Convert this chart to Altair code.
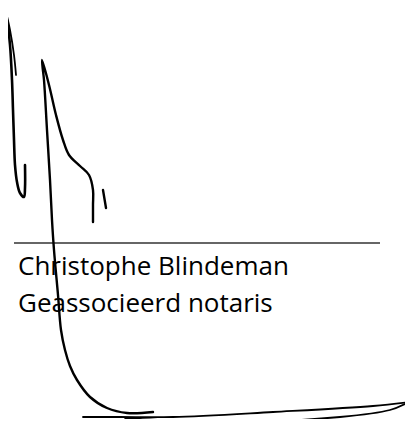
import altair as alt
import pandas as pd

# signature strokes (page pixel coordinates)
stroke_ids = ["A", "A2", "B", "C", "D1", "D2"]
stroke_x = {
    "A":  [4, 7, 10, 12, 13, 14, 15, 17, 20, 24, 25, 25],
    "A2": [6, 10, 14, 16],
    "B":  [93, 93, 93, 89, 80, 69, 63, 56, 49, 42, 44, 47, 50, 52, 54, 58, 61, 65, 70, 77, 90, 107, 127, 153],
    "C":  [103, 106],
    "D1": [83, 120, 173, 273, 373, 410],
    "D2": [125, 160, 240, 340, 390, 407],
}
stroke_y = {
    "A":  [7, 20, 45, 80, 110, 140, 165, 182, 193, 197, 188, 165],
    "A2": [12, 30, 55, 75],
    "B":  [222, 205, 190, 175, 166, 155, 140, 115, 85, 60, 80, 130, 180, 220, 250, 295, 330, 350, 366, 380, 397, 408, 413, 412],
    "C":  [190, 208],
    "D1": [417, 417, 417, 412, 406, 402],
    "D2": [418, 420, 422, 417, 410, 403],
}
stroke_w = {"A": 2.6, "A2": 1.8, "B": 2.4, "C": 2.4, "D1": 1.8, "D2": 1.8}

rule_x = [14]
rule_x2 = [380]
rule_y = [243]

text_lines = ["Christophe Blindeman", "Geassocieerd notaris"]
text_x = [18, 18]
text_y = [275, 312]

rows = []
for sid in stroke_ids:
    for i, (x, y) in enumerate(zip(stroke_x[sid], stroke_y[sid])):
        rows.append({"stroke": sid, "i": i, "x": x, "y": y, "w": stroke_w[sid]})
strokes = pd.DataFrame(rows)

W, H = 397, 411
xs = alt.Scale(domain=[8, 8 + W], nice=False, zero=False)
ys = alt.Scale(domain=[8 + H, 8], nice=False, zero=False)

rule = alt.Chart(pd.DataFrame({"x": rule_x, "x2": rule_x2, "y": rule_y})).mark_rule(
    color="#333333", strokeWidth=1.4
).encode(
    x=alt.X("x:Q", scale=xs, axis=None),
    x2="x2:Q",
    y=alt.Y("y:Q", scale=ys, axis=None),
)

text = alt.Chart(pd.DataFrame({"t": text_lines, "x": text_x, "y": text_y})).mark_text(
    align="left", baseline="alphabetic", font="Open Sans", fontSize=26, color="#000000"
).encode(
    x=alt.X("x:Q", scale=xs, axis=None),
    y=alt.Y("y:Q", scale=ys, axis=None),
    text="t:N",
)

lines = []
for sid in stroke_ids:
    d = strokes[strokes.stroke == sid]
    lines.append(
        alt.Chart(d).mark_line(
            color="#000000", strokeWidth=stroke_w[sid], interpolate="catmull-rom",
            strokeCap="round", strokeJoin="round"
        ).encode(
            x=alt.X("x:Q", scale=xs, axis=None),
            y=alt.Y("y:Q", scale=ys, axis=None),
            order="i:Q",
        )
    )

chart = alt.layer(rule, text, *lines).properties(
    width=W, height=H, padding=0, autosize=alt.AutoSizeParams(type="none")
).configure(background="white", view=alt.ViewConfig(stroke=None))

chart.save("out.html", embed_options={"renderer": "svg", "actions": False})
